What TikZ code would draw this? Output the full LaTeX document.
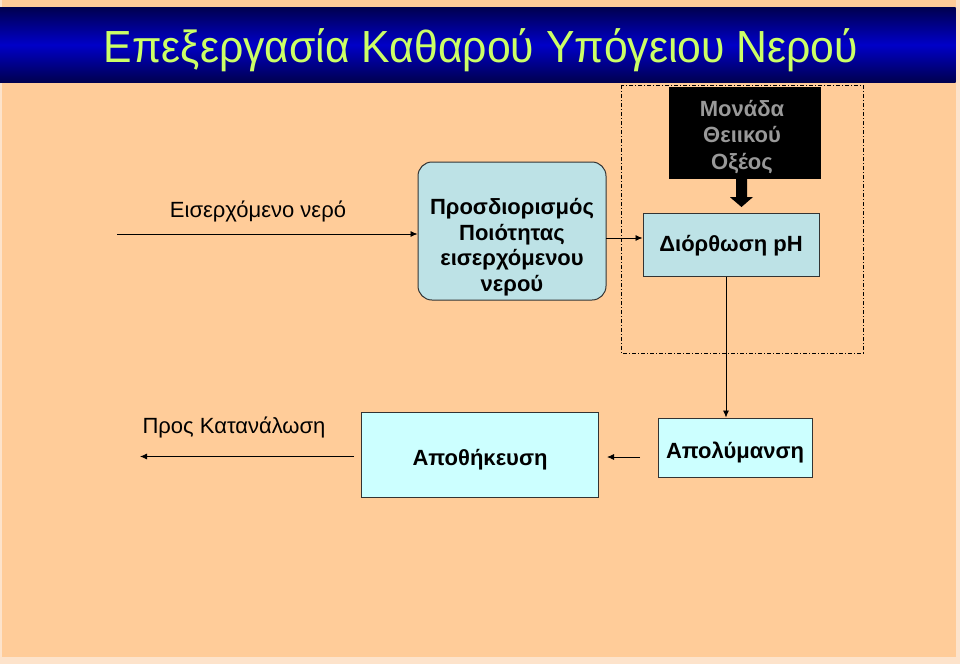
\documentclass[tikz,border=0pt]{standalone}
\usepackage{fontspec}
\setmainfont{Liberation Sans}
\usetikzlibrary{arrows.meta}
\definecolor{peach}{HTML}{FFCC99}
\definecolor{peachlight}{HTML}{FDE3CB}
\definecolor{navy}{HTML}{000050}
\definecolor{brightblue}{HTML}{0000C8}
\definecolor{titlegreen}{HTML}{CCFF66}
\definecolor{boxblue}{HTML}{BDE2E6}
\definecolor{boxcyan}{HTML}{CCFFFF}
\definecolor{edgegray}{HTML}{333333}
\definecolor{acidgray}{HTML}{999999}
\tikzset{
  box/.style={draw=edgegray, line width=1pt, inner sep=0pt},
  boldtext/.style={inner sep=0pt, align=center, font=\bfseries\fontsize{22}{25.5}\selectfont},
  plain/.style={inner sep=0pt, font=\fontsize{22}{26}\selectfont},
  flow/.style={-{Latex[length=7pt,width=6pt]}, line width=0.8pt, black}
}
\begin{document}
\begin{tikzpicture}[x=1pt,y=-1pt]
\useasboundingbox (0,0) rectangle (960,664);
\fill[peachlight] (0,0) rectangle (960,664);
\fill[peach] (2,0) rectangle (955.5,657);
\shade[top color=navy, bottom color=navy, middle color=brightblue] (0,7.5) rectangle (955.5,82);
\node[text=titlegreen, inner sep=0pt, anchor=base, font=\fontsize{45}{50}\selectfont, xscale=0.949] (title) at (481,62) {Επεξεργασία Καθαρού Υπόγειου Νερού};

% input
\coordinate (inStart) at (117,234);
\node[plain, anchor=base] (inLabel) at (258,217) {Εισερχόμενο νερό};
\node[box, fill=boxblue, rounded corners=14pt, minimum width=188pt, minimum height=138pt] (quality) at (512,231) {};
\node[boldtext] (qualityText) at (512,247) {Προσδιορισμός\\Ποιότητας\\εισερχόμενου\\νερού};
\draw[flow] (inStart) -- (quality.west |- inStart);

% dashed frame
\draw[line width=0.8pt, dash pattern=on 4pt off 2pt on 1pt off 2pt] (621,85) rectangle (863,353);

% acid unit
\node[fill=black, minimum width=152pt, minimum height=92pt, inner sep=0pt] (acid) at (745,133) {};
\node[inner sep=0pt, align=center, text=acidgray, font=\bfseries\fontsize{22}{26.5}\selectfont] (acidText) at (742,137) {Μονάδα\\Θειικού\\Οξέος};
\node[box, fill=boxblue, minimum width=176pt, minimum height=63pt] (ph) at (731,244.5) {};
\node[boldtext, anchor=base] (phText) at (731,251) {Διόρθωση pH};
\coordinate (acidTip) at (741.5,207);
\fill[black] (acid.south -| acidTip) ++(-5.5,0) -- ++(0,18) -- ++(-6,0) -- (acidTip) -- ++(11.5,-10) -- ++(-6,0) -- ++(0,-18) -- cycle;

\coordinate (phIn) at (606,238);
\draw[flow] (phIn) -- (ph.west |- phIn);

% disinfection
\node[box, fill=boxcyan, minimum width=154pt, minimum height=59pt] (dis) at (735,447.5) {};
\node[boldtext, anchor=base] (disText) at (735,458) {Απολύμανση};
\draw[flow] (ph.south -| 726,0) -- (dis.north -| 726,0);

% storage
\node[box, fill=boxcyan, minimum width=237pt, minimum height=85pt] (store) at (479.5,454.5) {};
\node[boldtext, anchor=base] (storeText) at (480,465) {Αποθήκευση};
\coordinate (disArrowStart) at (640,457);
\coordinate (storeArrowEnd) at (607,457);
\draw[flow] (disArrowStart) -- (storeArrowEnd);

% consumption
\node[plain, anchor=base] (outLabel) at (234,433) {Προς Κατανάλωση};
\coordinate (outStart) at (354,456.5);
\coordinate (outEnd) at (140,456.5);
\draw[flow] (outStart) -- (outEnd);
\end{tikzpicture}
\end{document}
